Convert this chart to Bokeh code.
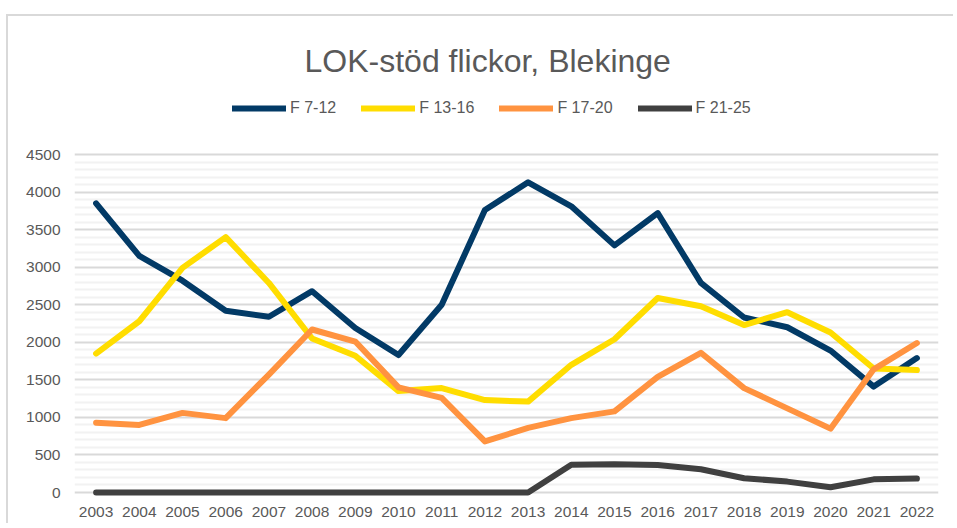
from bokeh.plotting import figure
from bokeh.models import Legend, LegendItem, FixedTicker, Range1d, FactorRange
from bokeh.embed import file_html
from bokeh.resources import INLINE

years = [str(y) for y in range(2003, 2023)]
f_7_12 = [3850, 3150, 2820, 2420, 2340, 2680, 2190, 1830, 2500, 3760,
          4130, 3810, 3290, 3720, 2790, 2330, 2200, 1890, 1410, 1790]
f_13_16 = [1850, 2280, 2990, 3400, 2790, 2050, 1820, 1350, 1390, 1230,
           1210, 1700, 2040, 2590, 2480, 2230, 2400, 2130, 1650, 1630]
f_17_20 = [930, 900, 1060, 990, 1570, 2170, 2010, 1400, 1260, 680,
           860, 990, 1080, 1540, 1860, 1390, 1120, 850, 1640, 1990]
f_21_25 = [0, 0, 0, 0, 0, 0, 0, 0, 0, 0,
           0, 370, 375, 365, 310, 190, 145, 70, 175, 185]
series_names = ["F 7-12", "F 13-16", "F 17-20", "F 21-25"]
series_values = [f_7_12, f_13_16, f_17_20, f_21_25]
colors = ["#023a66", "#ffdd00", "#ff9340", "#404040"]
y_max = 4500
y_major = list(range(0, y_max + 1, 500))
y_minor = [v for v in range(0, y_max + 1, 100) if v % 500 != 0]

TXT = "#595959"
FONT = "Liberation Sans"

# layout (pixels)
W, H = 947, 509
TOP, BOTTOM, LEFT, RIGHT = 70, 29, 66, 17
frame_h = H - TOP - BOTTOM          # frame includes legend area
grid_h = 338                         # pixel height of the 0..4500 value area
below_zero = 4                       # pixels under the zero line (so lines at 0 are not clipped)
units_per_px = y_max / grid_h
y_start = -below_zero * units_per_px
y_end = y_start + frame_h * units_per_px

p = figure(x_range=FactorRange(*years), y_range=Range1d(y_start, y_end),
           width=W, height=H, output_backend="svg", toolbar_location=None,
           min_border_left=LEFT, min_border_right=RIGHT, min_border_top=TOP,
           min_border_bottom=BOTTOM)
p.styles = {"margin-top": "14px", "margin-left": "6px",
            "border-top": "2px solid #d9d9d9", "border-left": "2px solid #d9d9d9"}
p.x_range.range_padding = 0
p.outline_line_color = None
p.background_fill_color = "white"
p.border_fill_color = "white"

p.title.text = "LOK-stöd flickor, Blekinge"
p.title.align = "left"
p.title.offset = 230
p.title.standoff = 16
p.title.text_font = FONT
p.title.text_font_size = "32px"
p.title.text_font_style = "normal"
p.title.text_color = TXT

p.yaxis.ticker = FixedTicker(ticks=y_major, minor_ticks=y_minor)
p.ygrid.ticker = FixedTicker(ticks=y_major, minor_ticks=y_minor)
p.ygrid.grid_line_color = "#d9d9d9"
p.ygrid.grid_line_width = 2
p.ygrid.minor_grid_line_color = "#f2f2f2"
p.ygrid.minor_grid_line_width = 2
p.xgrid.grid_line_color = None

for ax in (p.xaxis, p.yaxis):
    ax.major_tick_line_color = None
    ax.minor_tick_line_color = None
    ax.major_tick_out = 0
    ax.major_tick_in = 0
    ax.minor_tick_out = 0
    ax.major_label_text_font = FONT
    ax.major_label_text_font_size = "15.5px"
    ax.major_label_text_color = TXT
p.yaxis.axis_line_color = None
p.yaxis.major_label_standoff = 14
p.xaxis.axis_line_color = None
p.xaxis.major_label_standoff = 10

items = []
for name, vals, col in zip(series_names, series_values, colors):
    r = p.line(years, vals, line_color=col, line_width=6,
               line_join="round", line_cap="round")
    items.append(LegendItem(label=name, renderers=[r]))

legend = Legend(items=items, orientation="horizontal",
                location=(158, frame_h - 12 - 20),
                glyph_width=54, glyph_height=20, label_height=20,
                label_standoff=4, spacing=25, padding=0, margin=0,
                border_line_color=None, background_fill_alpha=0,
                label_text_font=FONT, label_text_font_size="16px",
                label_text_color=TXT)
p.add_layout(legend, "center")

open("out.html", "w").write(file_html(p, INLINE))
